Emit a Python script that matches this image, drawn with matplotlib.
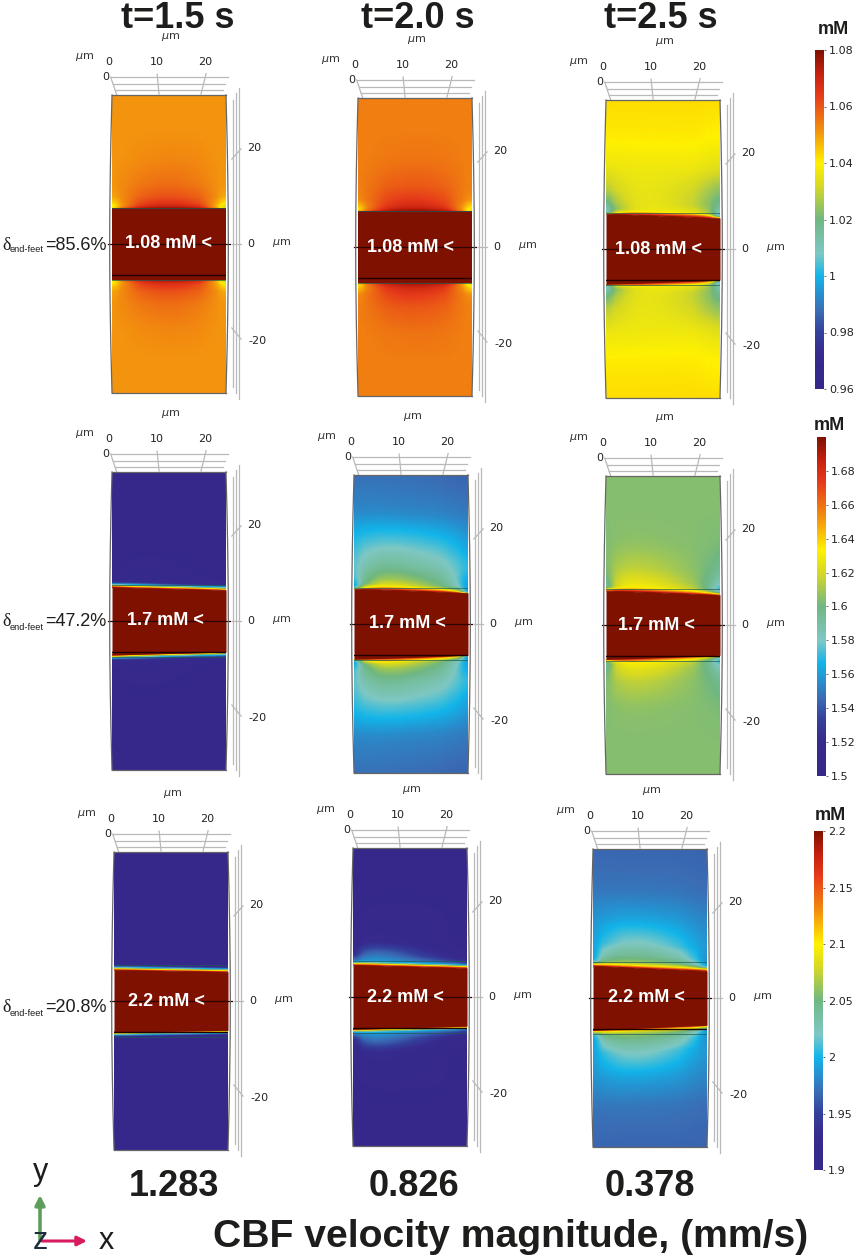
import numpy as np
import matplotlib
matplotlib.use("Agg")
import matplotlib.pyplot as plt
from matplotlib.cm import ScalarMappable
from matplotlib.colors import LinearSegmentedColormap, Normalize

W, H = 858, 1257
PANEL_W, PANEL_H = 114, 298
XMAX, YMAX = 23.5, 30.7  # panel size in um
REFINE = 16              # mesh cells per sampled cell, only to draw the field smoothly

# ---------------------------------------------------------------------------
# Values
# ---------------------------------------------------------------------------
TITLES = ["t=1.5 s", "t=2.0 s", "t=2.5 s"]
VELOCITIES = ["1.283", "0.826", "0.378"]
DELTAS = ["85.6%", "47.2%", "20.8%"]
THRESHOLDS = ["1.08 mM <", "1.7 mM <", "2.2 mM <"]
RANGES = [(0.96, 1.08), (1.5, 1.7), (1.9, 2.2)]

TICKS_1 = [0.96, 0.98, 1.0, 1.02, 1.04, 1.06, 1.08]
TICKS_2 = [1.5, 1.52, 1.54, 1.56, 1.58, 1.6, 1.62, 1.64, 1.66, 1.68]
TICKS_3 = [1.9, 1.95, 2.0, 2.05, 2.1, 2.15, 2.2]
TICK_LABELS_1 = ["0.96", "0.98", "1", "1.02", "1.04", "1.06", "1.08"]
TICK_LABELS_2 = ["1.5", "1.52", "1.54", "1.56", "1.58", "1.6", "1.62", "1.64", "1.66", "1.68"]
TICK_LABELS_3 = ["1.9", "1.95", "2", "2.05", "2.1", "2.15", "2.2"]

# field samples: columns at x (um), rows at a distance above the slab edge (um)
FIELD_X = [0, 2, 6, 12, 18, 21.5, 23.5]
FIELD_D = [0, 0.4, 0.8, 1.3, 2.5, 5, 10, 16, 26]

FIELD_11 = [[1.040, 1.060, 1.080, 1.080, 1.080, 1.050, 1.030],
            [1.036, 1.052, 1.070, 1.073, 1.068, 1.045, 1.028],
            [1.038, 1.050, 1.066, 1.068, 1.064, 1.046, 1.034],
            [1.042, 1.051, 1.063, 1.066, 1.061, 1.048, 1.039],
            [1.049, 1.052, 1.059, 1.061, 1.058, 1.051, 1.048],
            [1.051, 1.052, 1.055, 1.057, 1.054, 1.051, 1.051],
            [1.051, 1.051, 1.052, 1.053, 1.052, 1.051, 1.051],
            [1.051, 1.051, 1.051, 1.051, 1.051, 1.051, 1.051],
            [1.051, 1.051, 1.051, 1.051, 1.051, 1.051, 1.051]]
FIELD_12 = [[1.045, 1.065, 1.080, 1.080, 1.080, 1.055, 1.030],
            [1.040, 1.055, 1.073, 1.076, 1.071, 1.048, 1.030],
            [1.040, 1.054, 1.069, 1.072, 1.067, 1.048, 1.036],
            [1.044, 1.054, 1.066, 1.069, 1.064, 1.050, 1.041],
            [1.052, 1.055, 1.063, 1.065, 1.061, 1.053, 1.051],
            [1.054, 1.055, 1.059, 1.060, 1.058, 1.054, 1.054],
            [1.054, 1.054, 1.055, 1.056, 1.055, 1.054, 1.054],
            [1.054, 1.054, 1.054, 1.054, 1.054, 1.054, 1.054],
            [1.054, 1.054, 1.054, 1.054, 1.054, 1.054, 1.054]]
FIELD_13 = [[1.070, 1.080, 1.080, 1.080, 1.080, 1.075, 1.060],
            [1.000, 1.040, 1.060, 1.060, 1.060, 1.050, 1.000],
            [1.005, 1.030, 1.040, 1.040, 1.040, 1.030, 0.995],
            [1.010, 1.025, 1.036, 1.036, 1.035, 1.025, 1.005],
            [1.018, 1.028, 1.036, 1.035, 1.030, 1.022, 1.015],
            [1.028, 1.032, 1.036, 1.035, 1.031, 1.024, 1.022],
            [1.037, 1.037, 1.037, 1.037, 1.037, 1.035, 1.034],
            [1.041, 1.041, 1.041, 1.041, 1.041, 1.040, 1.040],
            [1.043, 1.043, 1.043, 1.043, 1.043, 1.043, 1.043]]
FIELD_21 = [[1.700, 1.700, 1.700, 1.700, 1.700, 1.700, 1.680],
            [1.640, 1.630, 1.620, 1.620, 1.620, 1.620, 1.600],
            [1.560, 1.560, 1.560, 1.550, 1.550, 1.560, 1.560],
            [1.510, 1.520, 1.520, 1.515, 1.510, 1.510, 1.510],
            [1.502, 1.508, 1.510, 1.508, 1.505, 1.502, 1.500],
            [1.500, 1.506, 1.508, 1.506, 1.503, 1.500, 1.500],
            [1.500, 1.500, 1.500, 1.500, 1.500, 1.500, 1.500],
            [1.500, 1.500, 1.500, 1.500, 1.500, 1.500, 1.500],
            [1.500, 1.500, 1.500, 1.500, 1.500, 1.500, 1.500]]
FIELD_22 = [[1.660, 1.700, 1.700, 1.700, 1.700, 1.680, 1.620],
            [1.560, 1.640, 1.660, 1.660, 1.650, 1.620, 1.540],
            [1.550, 1.620, 1.640, 1.630, 1.620, 1.600, 1.550],
            [1.560, 1.600, 1.625, 1.615, 1.600, 1.580, 1.555],
            [1.570, 1.595, 1.610, 1.605, 1.595, 1.575, 1.560],
            [1.575, 1.585, 1.595, 1.590, 1.585, 1.575, 1.570],
            [1.568, 1.572, 1.575, 1.574, 1.570, 1.565, 1.560],
            [1.553, 1.553, 1.553, 1.552, 1.552, 1.550, 1.550],
            [1.545, 1.545, 1.545, 1.545, 1.543, 1.542, 1.542]]
FIELD_23 = [[1.680, 1.700, 1.700, 1.700, 1.700, 1.690, 1.670],
            [1.620, 1.660, 1.670, 1.660, 1.650, 1.630, 1.600],
            [1.590, 1.630, 1.640, 1.635, 1.630, 1.600, 1.570],
            [1.585, 1.625, 1.632, 1.625, 1.615, 1.590, 1.565],
            [1.595, 1.620, 1.625, 1.620, 1.608, 1.595, 1.580],
            [1.602, 1.612, 1.616, 1.612, 1.605, 1.600, 1.595],
            [1.603, 1.605, 1.606, 1.605, 1.604, 1.603, 1.602],
            [1.604, 1.604, 1.604, 1.604, 1.604, 1.604, 1.604],
            [1.604, 1.604, 1.604, 1.604, 1.604, 1.604, 1.604]]
FIELD_31 = [[2.200, 2.200, 2.200, 2.200, 2.200, 2.200, 2.200],
            [2.080, 2.080, 2.080, 2.080, 2.080, 2.080, 2.080],
            [1.970, 1.970, 1.970, 1.970, 1.970, 1.970, 1.970],
            [1.910, 1.910, 1.910, 1.910, 1.910, 1.910, 1.910],
            [1.900, 1.900, 1.900, 1.900, 1.900, 1.900, 1.900],
            [1.900, 1.900, 1.900, 1.900, 1.900, 1.900, 1.900],
            [1.900, 1.900, 1.900, 1.900, 1.900, 1.900, 1.900],
            [1.900, 1.900, 1.900, 1.900, 1.900, 1.900, 1.900],
            [1.900, 1.900, 1.900, 1.900, 1.900, 1.900, 1.900]]
FIELD_32 = [[2.200, 2.200, 2.200, 2.200, 2.200, 2.200, 2.200],
            [2.080, 2.100, 2.100, 2.100, 2.100, 2.100, 2.090],
            [1.990, 2.000, 2.000, 1.995, 1.990, 1.990, 1.970],
            [1.960, 1.985, 1.985, 1.975, 1.960, 1.950, 1.940],
            [1.920, 1.970, 1.975, 1.955, 1.930, 1.915, 1.910],
            [1.905, 1.925, 1.930, 1.920, 1.910, 1.905, 1.900],
            [1.905, 1.910, 1.912, 1.912, 1.910, 1.905, 1.905],
            [1.900, 1.902, 1.903, 1.903, 1.902, 1.900, 1.900],
            [1.900, 1.900, 1.900, 1.900, 1.900, 1.900, 1.900]]
FIELD_33 = [[2.200, 2.200, 2.200, 2.200, 2.200, 2.200, 2.200],
            [2.100, 2.120, 2.120, 2.120, 2.120, 2.120, 2.100],
            [2.030, 2.080, 2.080, 2.080, 2.080, 2.060, 2.020],
            [1.985, 2.050, 2.060, 2.060, 2.050, 2.020, 1.980],
            [1.985, 2.030, 2.042, 2.042, 2.030, 2.000, 1.980],
            [1.990, 2.005, 2.022, 2.022, 2.005, 1.992, 1.988],
            [1.985, 1.988, 1.992, 1.992, 1.988, 1.982, 1.980],
            [1.972, 1.972, 1.972, 1.972, 1.972, 1.970, 1.970],
            [1.965, 1.965, 1.965, 1.965, 1.965, 1.965, 1.965]]
FIELDS = [FIELD_11, FIELD_12, FIELD_13, FIELD_21, FIELD_22, FIELD_23,
          FIELD_31, FIELD_32, FIELD_33]

# height of the slab edge (um) at the left and right side of each panel
EDGE_LEFT = [7.4, 7.4, 7.3, 7.0, 7.3, 7.1, 6.45, 6.65, 6.65]
EDGE_RIGHT = [7.4, 7.4, 6.4, 6.4, 6.45, 6.25, 6.05, 6.0, 5.6]
LABEL_X = [11.7, 10.8, 10.9, 11.0, 11.1, 10.4, 10.8, 10.8, 11.1]

# panel corners in the figure (px)
PANEL_LEFT = [112, 358, 606, 112, 354, 606, 114, 353, 593]
PANEL_TOP = [95, 98, 100, 472, 475, 476, 852, 848, 849]

# colour bars: left, top, bottom (px)
BAR_LEFT = [815, 817, 814]
BAR_TOP = [50, 437, 831]
BAR_BOTTOM = [389, 776, 1170]
BAR_W = 9

CMAP_POS = [0, 0.1, 0.167, 0.233, 0.333, 0.4, 0.5, 0.6, 0.667, 0.767, 0.867, 0.933, 1]
CMAP_COL = ["#35288a", "#372a8e", "#34409c", "#3a6eb5", "#12b5ea", "#7ec8c4", "#70b783",
            "#d7d924", "#fff100", "#f28c0f", "#e63b1a", "#c4200f", "#7f1100"]
SLAB_COLOR = "#7f1100"
GREY = "#b9b9b9"
DARK = "#1d1d1b"

plt.rcParams["font.family"] = ["Liberation Sans", "DejaVu Sans"]
cmap = LinearSegmentedColormap.from_list("comsol", list(zip(CMAP_POS, CMAP_COL)), N=512)
cmap.set_over(SLAB_COLOR)
cmap.set_under(CMAP_COL[0])

fig = plt.figure(figsize=(W / 100, H / 100), dpi=100)


def smooth(a, window, axis):
    """Moving average along one axis, edge values held."""
    kernel = np.ones(window) / window
    pad = [(0, 0), (0, 0)]
    pad[axis] = (window // 2, window - 1 - window // 2)
    padded = np.pad(a, pad, mode="edge")
    return np.apply_along_axis(lambda v: np.convolve(v, kernel, mode="valid"), axis, padded)


def field_mesh(field):
    """Sampled rows/columns on a fine mesh, softened so the cell corners don't show."""
    z = np.array(field)
    rows = np.linspace(0, z.shape[0] - 1, (z.shape[0] - 1) * REFINE + 1)
    cols = np.linspace(0, z.shape[1] - 1, (z.shape[1] - 1) * REFINE + 1)
    fine = np.array([np.interp(cols, np.arange(z.shape[1]), line) for line in z])
    fine = np.array([np.interp(rows, np.arange(z.shape[0]), line) for line in fine.T]).T
    for _ in range(2):
        fine = smooth(fine, REFINE, 1)
        fine = smooth(fine, REFINE // 2, 0)
    return np.interp(rows, np.arange(z.shape[0]), FIELD_D), \
        np.interp(cols, np.arange(z.shape[1]), FIELD_X), fine


def draw_frame(ax):
    """The perspective box, tick lines and labels COMSOL draws round each plot."""
    for y, x0, x1 in [(34.4, -0.27, 23.9), (33.0, 0.27, 23.3), (31.75, 0.6, 22.9)]:
        ax.plot([x0, x1], [y, y], color=GREY, lw=0.9, clip_on=False)
    for xs, ys in [([-0.27, 0.97], [34.4, 30.7]), ([9.3, 9.7], [35.0, 30.9]),
                   ([19.4, 18.35], [35.1, 30.9])]:
        ax.plot(xs, ys, color=GREY, lw=0.9, clip_on=False)
    for x, y0, y1 in [(24.95, 29.7, -29.5), (25.6, 31.1, -30.7), (26.2, 32.2, -32.0)]:
        ax.plot([x, x], [y0, y1], color=GREY, lw=0.9, clip_on=False)
    for xs, ys in [([24.7, 26.6], [17.5, 19.6]), ([24.7, 26.6], [0, 0]),
                   ([24.7, 26.6], [-17.3, -19.6])]:
        ax.plot(xs, ys, color=GREY, lw=0.9, clip_on=False)

    # bulging side walls
    arc_y = [30.7, 22, 15, 7, 0, -7, -15, -22, -30.7]
    arc_dx = [0, 0.22, 0.35, 0.45, 0.48, 0.45, 0.35, 0.22, 0]
    ax.plot([-d for d in arc_dx], arc_y, color="#666666", lw=0.9, clip_on=False)
    ax.plot([XMAX + d for d in arc_dx], arc_y, color="#666666", lw=0.9, clip_on=False)
    ax.plot([0, XMAX], [YMAX, YMAX], color="#666666", lw=0.9, clip_on=False)
    ax.plot([0, XMAX], [-YMAX, -YMAX], color="#666666", lw=0.9, clip_on=False)

    tick = dict(fontsize=8, family="DejaVu Sans", color="#222222", ha="center", va="center")
    for x, s in [(-0.6, "0"), (9.3, "10"), (19.2, "20")]:
        ax.text(x, 37.6, s, **tick)
    ax.text(-1.2, 34.4, "0", **tick)
    for x, y, s in [(29.3, 19.8, "20"), (28.7, 0, "0"), (29.9, -20, "-20")]:
        ax.text(x, y, s, **tick)
    for x, y in [(-5.6, 38.5), (12.0, 42.7), (35.0, 0.2)]:
        ax.text(x, y, r"$\mu$m", fontsize=8, color="#333333", ha="center", va="center",
                family="DejaVu Sans")


# ---------------------------------------------------------------------------
# The nine field panels
# ---------------------------------------------------------------------------
for i, field in enumerate(FIELDS):
    row, col = divmod(i, 3)
    ax = fig.add_axes([PANEL_LEFT[i] / W, 1 - (PANEL_TOP[i] + PANEL_H) / H,
                       PANEL_W / W, PANEL_H / H])
    ax.set_xlim(0, XMAX)
    ax.set_ylim(-YMAX, YMAX)
    ax.axis("off")

    d_fine, x_fine, z_fine = field_mesh(field)
    edge = np.interp(x_fine, [0, XMAX], [EDGE_LEFT[i], EDGE_RIGHT[i]])
    xx = np.tile(x_fine, (len(d_fine), 1))
    yy = edge + d_fine[:, None]
    norm = Normalize(*RANGES[row])
    for sign in (1, -1):
        ax.pcolormesh(xx, sign * yy, z_fine, cmap=cmap, norm=norm, shading="gouraud")

    # thin outline of the end-feet gap, under the slab
    ax.plot([0, XMAX], [7.45, 7.45], color="#1f5a55", lw=0.7, alpha=0.7)
    ax.plot([0, XMAX], [-7.45, -7.45], color="#1f5a55", lw=0.7, alpha=0.7)
    ax.fill_between(x_fine, -edge, edge, color=SLAB_COLOR, lw=0)
    ax.plot([0, XMAX], [-6.4, -6.4], color="#200000", lw=1.0)
    ax.plot([-0.8, 24.3], [0, 0], color="#2a0505", lw=0.9, clip_on=False)

    draw_frame(ax)
    ax.text(LABEL_X[i], 0, THRESHOLDS[row], color="white", fontsize=13, fontweight="bold",
            ha="center", va="center")

# ---------------------------------------------------------------------------
# Colour bars
# ---------------------------------------------------------------------------
for i, (ticks, labels) in enumerate([(TICKS_1, TICK_LABELS_1), (TICKS_2, TICK_LABELS_2),
                                      (TICKS_3, TICK_LABELS_3)]):
    cax = fig.add_axes([BAR_LEFT[i] / W, 1 - BAR_BOTTOM[i] / H, BAR_W / W,
                        (BAR_BOTTOM[i] - BAR_TOP[i]) / H])
    sm = ScalarMappable(norm=Normalize(*RANGES[i]), cmap=cmap)
    cb = fig.colorbar(sm, cax=cax, ticks=ticks)
    cb.ax.set_yticklabels(labels, family="DejaVu Sans", fontsize=8, color="#222222")
    cb.ax.tick_params(length=1.5, width=0.5, pad=2, color="#333333")
    cb.outline.set_visible(False)

# ---------------------------------------------------------------------------
# Headings, values and the axis triad, placed in figure pixels
# ---------------------------------------------------------------------------
over = fig.add_axes([0, 0, 1, 1], facecolor="none")
over.set_xlim(0, W)
over.set_ylim(H, 0)
over.axis("off")

big = dict(fontsize=26, fontweight="bold", color=DARK, ha="center", va="baseline")
for x, s in zip([178, 418, 661], TITLES):
    over.text(x, 28, s, **big)
for x, s in zip([174, 414, 650], VELOCITIES):
    over.text(x, 1196, s, **big)
over.text(213, 1247, "CBF velocity magnitude, (mm/s)", fontsize=28.2, fontweight="bold",
          color=DARK, ha="left", va="baseline")

for y, s in zip([245, 622, 1008], DELTAS):
    over.text(2, y, "\u03b4", fontsize=13, family="Liberation Serif", color=DARK,
              ha="left", va="center")
    over.text(10, y + 5, "end-feet", fontsize=6.7, color=DARK, ha="left", va="center")
    over.text(45, y, "=" + s, fontsize=13, color=DARK, ha="left", va="center")

for x, y, s in zip([833, 829, 830], [30, 425, 815], ["mM", "mM", "mM"]):
    over.text(x, y, s, fontsize=13, fontweight="bold", color=DARK, ha="center", va="center")

over.annotate("", xy=(40, 1195), xytext=(40, 1240),
              arrowprops=dict(arrowstyle="-|>", color="#5e9e5c", lw=2.6, mutation_scale=14,
                              shrinkA=0, shrinkB=0))
over.annotate("", xy=(87, 1241), xytext=(42, 1241),
              arrowprops=dict(arrowstyle="-|>", color="#d81b60", lw=2.2, mutation_scale=14,
                              shrinkA=0, shrinkB=0))
over.text(41, 1180, "y", fontsize=22, color=DARK, ha="center", va="baseline")
over.text(40, 1249, "z", fontsize=22, color="#1d2b3a", ha="center", va="baseline")
over.text(106, 1249, "x", fontsize=22, color=DARK, ha="center", va="baseline")

fig.savefig("out.png", dpi=100)
